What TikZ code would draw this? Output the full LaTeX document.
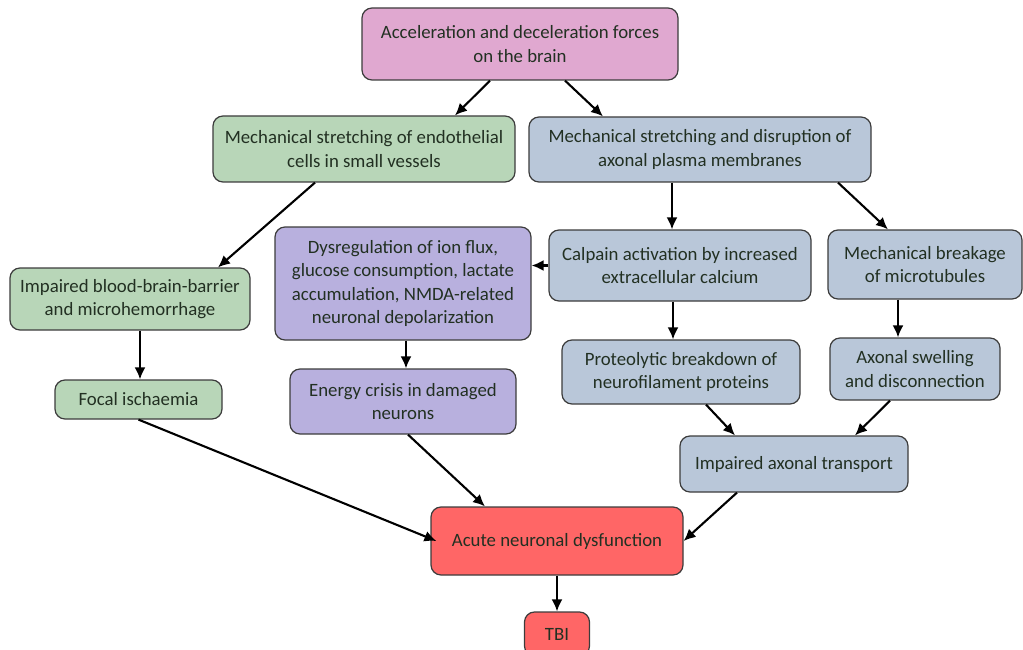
\documentclass[tikz,border=0pt]{standalone}
\usepackage{fontspec}
\setmainfont{Carlito}
\usepackage{tikz}
\usetikzlibrary{arrows.meta,calc}
\definecolor{txtcol}{HTML}{223022}
\definecolor{pinkfill}{HTML}{E0A8D0}
\definecolor{greenfill}{HTML}{B8D6B8}
\definecolor{bluefill}{HTML}{B9C7D9}
\definecolor{purplefill}{HTML}{B8B0DE}
\definecolor{redfill}{HTML}{FF6666}
\definecolor{edgecol}{HTML}{3C3C3C}

\begin{document}
\begin{tikzpicture}[x=1pt, y=-1pt,
    box/.style={draw=edgecol, line width=1.2pt, rounded corners=10pt, align=center,
                inner sep=0pt, text=txtcol,
                font=\fontsize{18.8}{23.5}\selectfont},
    pinkbox/.style={box, fill=pinkfill},
    greenbox/.style={box, fill=greenfill},
    bluebox/.style={box, fill=bluefill},
    purplebox/.style={box, fill=purplefill},
    redbox/.style={box, fill=redfill},
    arr/.style={line width=2.1pt, -{Latex[length=12pt,width=11pt]}}]
      \useasboundingbox (0,0) rectangle (1023,650);
      \node (accel) [pinkbox, minimum width=316pt, minimum height=72pt] at (520,44)
            {Acceleration and deceleration forces\\on the brain};
      \node (endo) [greenbox, minimum width=302pt, minimum height=66pt] at (364,149)
            {Mechanical stretching of endothelial\\cells in small vessels};
      \node (axon) [bluebox, minimum width=342pt, minimum height=65pt] at (700,149.5)
            {Mechanical stretching and disruption of\\axonal plasma membranes};
      \node (bbb) [greenbox, minimum width=240pt, minimum height=62pt] at (130,299)
            {Impaired blood-brain-barrier\\and microhemorrhage};
      \node (dysreg) [purplebox, minimum width=256pt, minimum height=113pt] at (403,283.5)
            {Dysregulation of ion flux,\\glucose consumption, lactate\\accumulation, NMDA-related\\neuronal depolarization};
      \node (calpain) [bluebox, minimum width=262pt, minimum height=71pt] at (680,265.5)
            {Calpain activation by increased\\extracellular calcium};
      \node (breakage) [bluebox, minimum width=194pt, minimum height=69pt] at (925,264.5)
            {Mechanical breakage\\of microtubules};
      \node (focal) [greenbox, minimum width=167pt, minimum height=39pt] at (138.5,399.5)
            {Focal ischaemia};
      \node (energy) [purplebox, minimum width=226pt, minimum height=65pt] at (403,401.5)
            {Energy crisis in damaged\\neurons};
      \node (proteo) [bluebox, minimum width=238pt, minimum height=64pt] at (681,372)
            {Proteolytic breakdown of\\neurofilament proteins};
      \node (swell) [bluebox, minimum width=170pt, minimum height=62pt] at (915,369)
            {Axonal swelling\\and disconnection};
      \node (transport) [bluebox, minimum width=228pt, minimum height=56pt] at (794,464)
            {Impaired axonal transport};
      \node (acute) [redbox, minimum width=252pt, minimum height=68pt] at (557,541)
            {Acute neuronal dysfunction};
      \node (tbi) [redbox, minimum width=65pt, minimum height=44pt] at (557,634)
            {TBI};
      \draw[arr] ([xshift=-30pt]accel.south) -- ([xshift=91pt]endo.north);
      \draw[arr] ([xshift=45pt]accel.south) -- ([xshift=-97pt]axon.north);
      \draw[arr] ([xshift=-49pt]endo.south) -- ([xshift=88pt]bbb.north);
      \draw[arr] ([xshift=-28pt]axon.south) -- ([xshift=-28pt]axon.south |- calpain.north);
      \draw[arr] ([xshift=138pt]axon.south) -- ([xshift=-37pt]breakage.north);
      \draw[arr] (calpain.west) -- (calpain.west -| dysreg.east);
      \draw[arr] ([xshift=-7pt]calpain.south) -- ([xshift=-7pt]calpain.south |- proteo.north);
      \draw[arr] ([xshift=-27pt]breakage.south) -- ([xshift=-27pt]breakage.south |- swell.north);
      \draw[arr] ([xshift=10pt]bbb.south) -- ([xshift=10pt]bbb.south |- focal.north);
      \draw[arr] ([xshift=3pt]dysreg.south) -- ([xshift=3pt]dysreg.south |- energy.north);
      \draw[arr] (focal.south) -- ([xshift=6pt]acute.west);
      \draw[arr] ([xshift=5pt]energy.south) -- ([xshift=-72pt]acute.north);
      \draw[arr] ([xshift=25pt]proteo.south) -- ([xshift=-59pt]transport.north);
      \draw[arr] ([xshift=-25pt]swell.south) -- ([xshift=61pt]transport.north);
      \draw[arr] ([xshift=-57pt]transport.south) -- (acute.east);
      \draw[arr] (acute.south) -- (tbi.north);
\end{tikzpicture}
\end{document}
